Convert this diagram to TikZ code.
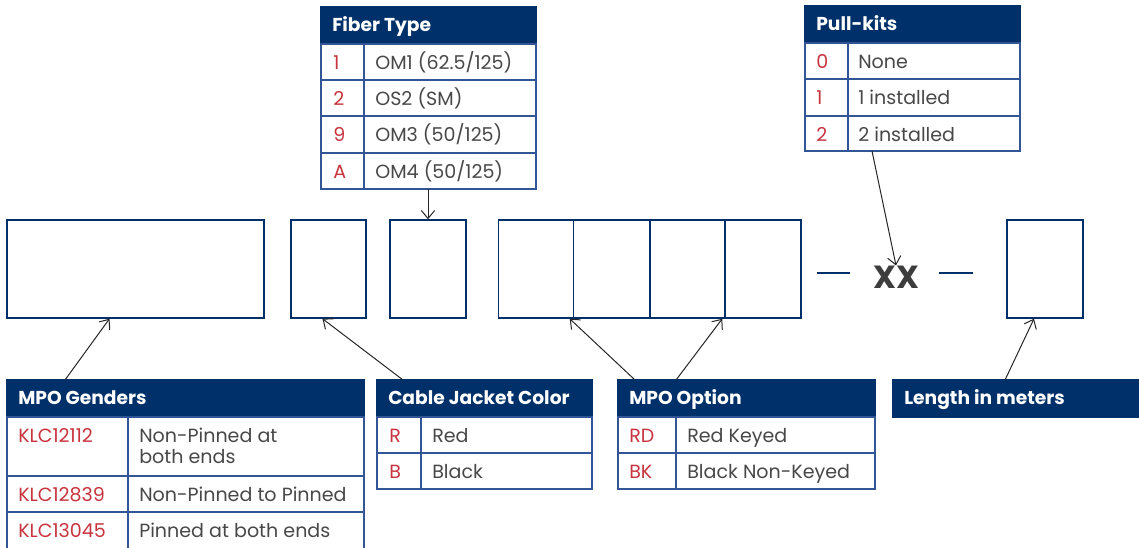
\documentclass[tikz,border=0pt]{standalone}
\usepackage{fontspec}
\setmainfont{Poppins}
\usetikzlibrary{arrows.meta}
\definecolor{navy}{RGB}{0,48,106}
\definecolor{gridc}{RGB}{50,85,150}
\definecolor{codered}{RGB}{200,52,62}
\definecolor{txt}{RGB}{72,72,72}
\definecolor{xxc}{RGB}{61,61,61}
\begin{document}
\begin{tikzpicture}[x=0.75pt,y=-0.75pt,
  slot/.style={draw=navy,line width=1.1pt,minimum height=73.5pt,inner sep=0pt},
  cellline/.style={draw=gridc,line width=0.9pt},
  hdr/.style={fill=navy,draw=navy,line width=0.9pt},
  hdrtext/.style={anchor=base west,inner sep=0pt,text=white,font=\fontsize{14}{16}\selectfont\bfseries},
  code/.style={anchor=base west,inner sep=0pt,text=codered,font=\fontsize{14.3}{15.75}\selectfont},
  desc/.style={anchor=base west,inner sep=0pt,text=txt,font=\fontsize{14.3}{15.75}\selectfont},
  pointer/.style={-{Straight Barb[length=6pt,width=10pt]},draw=black!85,line width=0.75pt},
  dashbar/.style={draw=navy,line width=2.2pt}]
\useasboundingbox (0,0) rectangle (1139,548);

% ---------- slots ----------
\node[slot,minimum width=192.75pt] (s1) at (135.5,269) {};
\node[slot,minimum width=56.25pt] (s2) at (328.5,269) {};
\node[slot,minimum width=57pt] (s3) at (428,269) {};
\node[slot,minimum width=56.25pt] (s4) at (536,269) {};
\node[slot,minimum width=57pt] (s5) at (611.5,269) {};
\node[slot,minimum width=56.25pt] (s6) at (687.5,269) {};
\node[slot,minimum width=57pt] (s7) at (763,269) {};
\node[slot,minimum width=57pt] (s8) at (1045,269) {};
\node[inner sep=0pt,text=xxc,font=\fontsize{24}{24}\selectfont\bfseries] (xx) at (896,277) {XX};
\coordinate (d1a) at (817,273); \coordinate (d1b) at (850,273);
\coordinate (d2a) at (939,273); \coordinate (d2b) at (973,273);
\draw[dashbar] (d1a) -- (d1b);
\draw[dashbar] (d2a) -- (d2b);

% ---------- Fiber Type ----------
\fill[hdr] (321,7) rectangle (536,44);
\draw[cellline] (321,44) rectangle (536,189);
\draw[cellline] (321,80) -- (536,80) (321,116) -- (536,116) (321,153) -- (536,153) (364,44) -- (364,189);
\node[hdrtext] (ft) at (332,32) {Fiber Type};
\node[code] at (333,70) {1};  \node[desc] at (375,70) {OM1 (62.5/125)};
\node[code] at (333,106) {2}; \node[desc] at (375,106) {OS2 (SM)};
\node[code] at (333,142) {9}; \node[desc] at (375,142) {OM3 (50/125)};
\node[code] at (333,179) {A}; \node[desc] at (375,179) {OM4 (50/125)};
\coordinate (ftb) at (428,189);

% ---------- Pull-kits ----------
\fill[hdr] (805,6) rectangle (1020,43);
\draw[cellline] (805,43) rectangle (1020,151);
\draw[cellline] (805,79) -- (1020,79) (805,116) -- (1020,116) (848,43) -- (848,151);
\node[hdrtext] (pk) at (816,31) {Pull-kits};
\node[code] at (816,69) {0};  \node[desc] at (858,69) {None};
\node[code] at (816,105) {1}; \node[desc] at (858,105) {1 installed};
\node[code] at (816,142) {2}; \node[desc] at (858,142) {2 installed};
\coordinate (pkb) at (872,151);

% ---------- MPO Genders ----------
\fill[hdr] (7,380) rectangle (364,417);
\draw[cellline] (7,417) rectangle (364,556);
\draw[cellline] (7,476) -- (364,476) (7,512) -- (364,512) (128,417) -- (128,556);
\node[hdrtext] (mg) at (18,405) {MPO Genders};
\node[code] at (18,443) {KLC12112};
\node[desc] at (139,443) {\begin{tabular}[t]{@{}l@{}}Non-Pinned at\\both ends\end{tabular}};
\node[code] at (18,502) {KLC12839}; \node[desc] at (139,502) {Non-Pinned to Pinned};
\node[code] at (18,538) {KLC13045}; \node[desc] at (139,538) {Pinned at both ends};
\coordinate (mgt) at (65,380);

% ---------- Cable Jacket Color ----------
\fill[hdr] (377,380) rectangle (592,417);
\draw[cellline] (377,417) rectangle (592,489);
\draw[cellline] (377,453) -- (592,453) (421,417) -- (421,489);
\node[hdrtext] (cj) at (388,405) {Cable Jacket Color};
\node[code] at (389,443) {R}; \node[desc] at (432,443) {Red};
\node[code] at (389,479) {B}; \node[desc] at (432,479) {Black};
\coordinate (cjt) at (403,380);

% ---------- MPO Option ----------
\fill[hdr] (618,380) rectangle (875,417);
\draw[cellline] (618,417) rectangle (875,489);
\draw[cellline] (618,453) -- (875,453) (676,417) -- (676,489);
\node[hdrtext] (mo) at (629,405) {MPO Option};
\node[code] at (629,443) {RD}; \node[desc] at (687,443) {Red Keyed};
\node[code] at (629,479) {BK}; \node[desc] at (687,479) {Black Non-Keyed};
\coordinate (mot1) at (635,380);
\coordinate (mot2) at (676,380);

% ---------- Length in meters ----------
\fill[hdr] (893,380) rectangle (1145,417);
\node[hdrtext] (lm) at (904,405) {Length in meters};
\coordinate (lmt) at (1005,380);

% ---------- pointers ----------
\draw[pointer] (ftb) -- (s3.north);
\draw[pointer] (pkb) -- (xx.north);
\draw[pointer] (mgt) -- ([xshift=-19.5pt]s1.south);
\draw[pointer] (cjt) -- ([xshift=-4.5pt]s2.south);
\draw[pointer] (mot1) -- ([xshift=-3.4pt]s4.south east);
\draw[pointer] (mot2) -- ([xshift=-1.5pt]s7.south west);
\draw[pointer] (lmt) -- ([xshift=-8.25pt]s8.south);
\end{tikzpicture}
\end{document}
